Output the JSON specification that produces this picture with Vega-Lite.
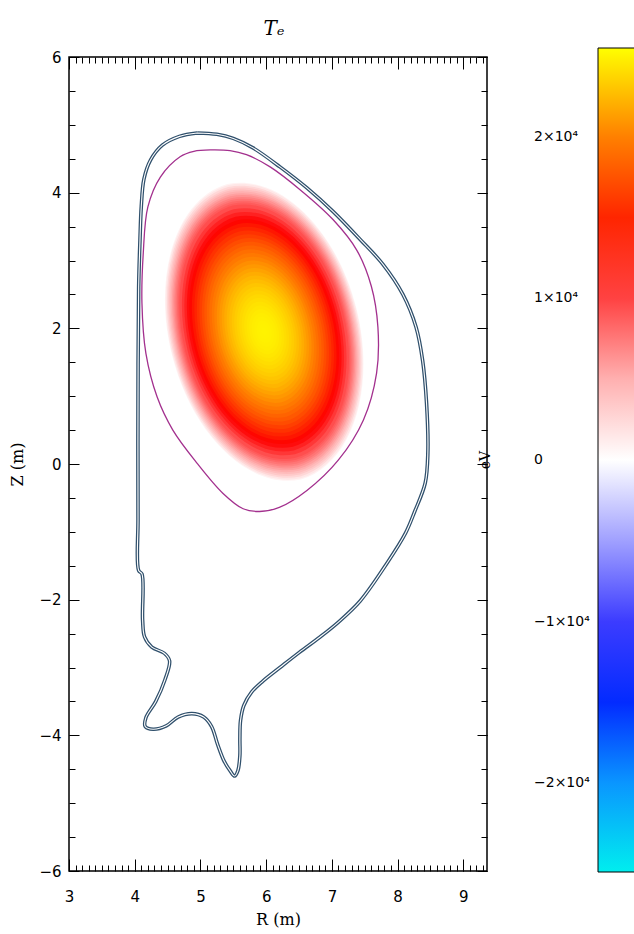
{
  "$schema": "https://vega.github.io/schema/vega-lite/v6.json",
  "width": 418,
  "height": 814,
  "autosize": {"type": "none"},
  "padding": {"left": 69, "top": 57, "right": 147, "bottom": 63},
  "background": "white",
  "title": {"text": "Tₑ", "font": "DejaVu Serif", "fontStyle": "italic", "fontSize": 20, "fontWeight": "normal", "offset": 9, "anchor": "middle", "dx": -4, "color": "black"},
  "config": {
    "view": {"stroke": "black", "strokeWidth": 1.5},
    "axis": {"grid": false, "domain": false, "tickColor": "black", "tickWidth": 1, "labelColor": "black", "titleColor": "black", "labelFlush": false, "labelOverlap": false, "labelBound": false}
  },
  "datasets": {
    "heat": [
      {"rho": 0.995, "T": 750, "R": 5.97, "Z": 1.95},
      {"rho": 0.9875, "T": 1510, "R": 5.97, "Z": 1.95},
      {"rho": 0.975, "T": 2540, "R": 5.97, "Z": 1.95},
      {"rho": 0.9625, "T": 3440, "R": 5.97, "Z": 1.95},
      {"rho": 0.95, "T": 4260, "R": 5.97, "Z": 1.95},
      {"rho": 0.9375, "T": 5025, "R": 5.97, "Z": 1.95},
      {"rho": 0.925, "T": 5740, "R": 5.97, "Z": 1.95},
      {"rho": 0.9125, "T": 6425, "R": 5.97, "Z": 1.95},
      {"rho": 0.9, "T": 7080, "R": 5.97, "Z": 1.95},
      {"rho": 0.8875, "T": 7700, "R": 5.97, "Z": 1.95},
      {"rho": 0.875, "T": 8300, "R": 5.97, "Z": 1.95},
      {"rho": 0.8625, "T": 8880, "R": 5.97, "Z": 1.95},
      {"rho": 0.85, "T": 9440, "R": 5.97, "Z": 1.95},
      {"rho": 0.825, "T": 10500, "R": 5.97, "Z": 1.95},
      {"rho": 0.8, "T": 11500, "R": 5.97, "Z": 1.95},
      {"rho": 0.775, "T": 12450, "R": 5.97, "Z": 1.95},
      {"rho": 0.75, "T": 13340, "R": 5.97, "Z": 1.95},
      {"rho": 0.725, "T": 14190, "R": 5.97, "Z": 1.95},
      {"rho": 0.7, "T": 14990, "R": 5.97, "Z": 1.95},
      {"rho": 0.675, "T": 15750, "R": 5.97, "Z": 1.95},
      {"rho": 0.65, "T": 16470, "R": 5.97, "Z": 1.95},
      {"rho": 0.625, "T": 17160, "R": 5.97, "Z": 1.95},
      {"rho": 0.6, "T": 17810, "R": 5.97, "Z": 1.95},
      {"rho": 0.575, "T": 18430, "R": 5.97, "Z": 1.95},
      {"rho": 0.55, "T": 19010, "R": 5.97, "Z": 1.95},
      {"rho": 0.525, "T": 19570, "R": 5.97, "Z": 1.95},
      {"rho": 0.5, "T": 20090, "R": 5.97, "Z": 1.95},
      {"rho": 0.475, "T": 20590, "R": 5.97, "Z": 1.95},
      {"rho": 0.45, "T": 21050, "R": 5.97, "Z": 1.95},
      {"rho": 0.425, "T": 21490, "R": 5.97, "Z": 1.95},
      {"rho": 0.4, "T": 21900, "R": 5.97, "Z": 1.95},
      {"rho": 0.375, "T": 22280, "R": 5.97, "Z": 1.95},
      {"rho": 0.35, "T": 22640, "R": 5.97, "Z": 1.95},
      {"rho": 0.325, "T": 22970, "R": 5.97, "Z": 1.95},
      {"rho": 0.3, "T": 23270, "R": 5.97, "Z": 1.95},
      {"rho": 0.275, "T": 23550, "R": 5.97, "Z": 1.95},
      {"rho": 0.25, "T": 23800, "R": 5.97, "Z": 1.95},
      {"rho": 0.225, "T": 24030, "R": 5.97, "Z": 1.95},
      {"rho": 0.2, "T": 24240, "R": 5.97, "Z": 1.95},
      {"rho": 0.175, "T": 24420, "R": 5.97, "Z": 1.95},
      {"rho": 0.15, "T": 24570, "R": 5.97, "Z": 1.95},
      {"rho": 0.125, "T": 24700, "R": 5.97, "Z": 1.95},
      {"rho": 0.1, "T": 24810, "R": 5.97, "Z": 1.95},
      {"rho": 0.075, "T": 24890, "R": 5.97, "Z": 1.95},
      {"rho": 0.05, "T": 24950, "R": 5.97, "Z": 1.95},
      {"rho": 0.025, "T": 24990, "R": 5.97, "Z": 1.95}
    ],
    "outer": [
      {"i": 0, "R": 4.95, "Z": 4.88}, {"i": 1, "R": 5.25, "Z": 4.86}, {"i": 2, "R": 5.5, "Z": 4.8},
      {"i": 3, "R": 5.8, "Z": 4.66}, {"i": 4, "R": 6.21, "Z": 4.38}, {"i": 5, "R": 6.62, "Z": 4.07},
      {"i": 6, "R": 7.02, "Z": 3.72}, {"i": 7, "R": 7.43, "Z": 3.31}, {"i": 8, "R": 7.78, "Z": 2.94},
      {"i": 9, "R": 8.08, "Z": 2.5}, {"i": 10, "R": 8.28, "Z": 2.02}, {"i": 11, "R": 8.38, "Z": 1.53},
      {"i": 12, "R": 8.44, "Z": 0.9}, {"i": 13, "R": 8.46, "Z": 0.16}, {"i": 14, "R": 8.42, "Z": -0.28},
      {"i": 15, "R": 8.26, "Z": -0.7}, {"i": 16, "R": 8.12, "Z": -1.02}, {"i": 17, "R": 7.84, "Z": -1.46},
      {"i": 18, "R": 7.43, "Z": -2.02}, {"i": 19, "R": 7.1, "Z": -2.33}, {"i": 20, "R": 6.82, "Z": -2.55},
      {"i": 21, "R": 6.5, "Z": -2.78}, {"i": 22, "R": 6.21, "Z": -3.0}, {"i": 23, "R": 5.95, "Z": -3.2},
      {"i": 24, "R": 5.78, "Z": -3.36}, {"i": 25, "R": 5.66, "Z": -3.56}, {"i": 26, "R": 5.61, "Z": -3.78},
      {"i": 27, "R": 5.6, "Z": -4.05}, {"i": 28, "R": 5.6, "Z": -4.3}, {"i": 29, "R": 5.57, "Z": -4.52},
      {"i": 30, "R": 5.52, "Z": -4.6}, {"i": 31, "R": 5.45, "Z": -4.52}, {"i": 32, "R": 5.36, "Z": -4.38},
      {"i": 33, "R": 5.26, "Z": -4.13}, {"i": 34, "R": 5.17, "Z": -3.87}, {"i": 35, "R": 5.05, "Z": -3.73},
      {"i": 36, "R": 4.87, "Z": -3.68}, {"i": 37, "R": 4.66, "Z": -3.73}, {"i": 38, "R": 4.48, "Z": -3.86},
      {"i": 39, "R": 4.28, "Z": -3.91}, {"i": 40, "R": 4.16, "Z": -3.87}, {"i": 41, "R": 4.17, "Z": -3.74},
      {"i": 42, "R": 4.32, "Z": -3.5}, {"i": 43, "R": 4.46, "Z": -3.18}, {"i": 44, "R": 4.53, "Z": -2.9},
      {"i": 45, "R": 4.45, "Z": -2.79}, {"i": 46, "R": 4.26, "Z": -2.7}, {"i": 47, "R": 4.15, "Z": -2.55},
      {"i": 48, "R": 4.12, "Z": -2.3}, {"i": 49, "R": 4.11, "Z": -1.62}, {"i": 50, "R": 4.06, "Z": -1.57},
      {"i": 51, "R": 4.05, "Z": -0.8}, {"i": 52, "R": 4.05, "Z": 1.0}, {"i": 53, "R": 4.06, "Z": 2.6},
      {"i": 54, "R": 4.08, "Z": 3.3}, {"i": 55, "R": 4.1, "Z": 3.8}, {"i": 56, "R": 4.14, "Z": 4.2},
      {"i": 57, "R": 4.24, "Z": 4.48}, {"i": 58, "R": 4.42, "Z": 4.7}, {"i": 59, "R": 4.68, "Z": 4.83},
      {"i": 60, "R": 4.95, "Z": 4.88}
    ],
    "lcfs": [
      {"i": 0, "R": 5.15, "Z": 4.63}, {"i": 1, "R": 5.45, "Z": 4.62}, {"i": 2, "R": 5.7, "Z": 4.56},
      {"i": 3, "R": 6.06, "Z": 4.38}, {"i": 4, "R": 6.52, "Z": 4.04}, {"i": 5, "R": 7.02, "Z": 3.6},
      {"i": 6, "R": 7.38, "Z": 3.15}, {"i": 7, "R": 7.6, "Z": 2.62}, {"i": 8, "R": 7.7, "Z": 2.02},
      {"i": 9, "R": 7.68, "Z": 1.34}, {"i": 10, "R": 7.48, "Z": 0.65}, {"i": 11, "R": 7.1, "Z": 0.06},
      {"i": 12, "R": 6.62, "Z": -0.39}, {"i": 13, "R": 6.2, "Z": -0.64}, {"i": 14, "R": 5.9, "Z": -0.7},
      {"i": 15, "R": 5.65, "Z": -0.66}, {"i": 16, "R": 5.34, "Z": -0.43}, {"i": 17, "R": 4.95, "Z": 0.01},
      {"i": 18, "R": 4.58, "Z": 0.5}, {"i": 19, "R": 4.34, "Z": 0.99}, {"i": 20, "R": 4.17, "Z": 1.63},
      {"i": 21, "R": 4.11, "Z": 2.37}, {"i": 22, "R": 4.13, "Z": 3.11}, {"i": 23, "R": 4.2, "Z": 3.79},
      {"i": 24, "R": 4.39, "Z": 4.23}, {"i": 25, "R": 4.69, "Z": 4.53}, {"i": 26, "R": 4.9, "Z": 4.61},
      {"i": 27, "R": 5.15, "Z": 4.63}
    ]
  },
  "layer": [
    {
      "data": {"name": "heat"},
      "mark": {"type": "point", "filled": true, "opacity": 1, "strokeWidth": 0, "shape": "M -0.242 -0.97 A 0.64 1 -14 0 0 0.242 0.97 A 0.64 1 -14 0 0 -0.242 -0.97 Z"},
      "encoding": {
        "x": {"field": "R", "type": "quantitative", "scale": {"domain": [3, 9.36], "nice": false, "zero": false},
          "axis": {"orient": "bottom", "values": [3, 4, 5, 6, 7, 8, 9], "tickSize": -12, "labelPadding": 30, "labelFont": "DejaVu Sans", "labelFontSize": 15, "labelAngle": 0, "format": "d",
            "title": "R (m)", "titleFont": "DejaVu Serif", "titleFontSize": 16, "titleFontWeight": "normal", "titlePadding": 7}},
        "y": {"field": "Z", "type": "quantitative", "scale": {"domain": [-6, 6], "nice": false, "zero": false},
          "axis": {"orient": "left", "values": [-6, -4, -2, 0, 2, 4, 6], "tickSize": -10, "labelPadding": 18, "labelFont": "DejaVu Sans", "labelFontSize": 15, "format": "d",
            "title": "Z (m)", "titleFont": "DejaVu Serif", "titleFontSize": 16, "titleFontWeight": "normal", "titlePadding": 13}},
        "size": {"field": "rho", "type": "quantitative", "scale": {"type": "pow", "exponent": 2, "domain": [0, 1], "range": [0, 93636]}, "legend": null},
        "color": {"field": "T", "type": "quantitative",
          "scale": {"domain": [-25500, -20000, -13000, -5000, 0, 5000, 13000, 20000, 25500],
                    "range": ["#00eeee", "#0a96ff", "#0000ff", "#a0a0ff", "#ffffff", "#ffb0b0", "#ff0000", "#ff8000", "#ffff00"],
                    "interpolate": "rgb"},
          "legend": {"orient": "none", "legendX": 410, "legendY": -9, "direction": "vertical", "padding": 0,
            "gradientLength": 824, "gradientThickness": 45, "gradientStrokeColor": "black", "gradientStrokeWidth": 1,
            "values": [-20000, -10000, 0, 10000, 20000],
            "labelExpr": "datum.value == 0 ? '0' : (datum.value < 0 ? '−' : '') + format(abs(datum.value) / 10000, 'd') + '×10⁴'",
            "labelFont": "DejaVu Sans", "labelFontSize": 14, "labelColor": "black", "labelOffset": -109,
            "title": "eV", "titleOrient": "left", "titleAngle": -90, "titleAnchor": "middle", "titlePadding": 105,
            "titleFont": "DejaVu Serif", "titleFontSize": 14, "titleFontWeight": "normal", "titleColor": "black"}},
        "order": {"field": "rho", "sort": "descending"}
      }
    },
    {
      "data": {"name": "outer"},
      "mark": {"type": "line", "color": "#30506c", "strokeWidth": 3.6, "strokeJoin": "round", "interpolate": "catmull-rom"},
      "encoding": {
        "x": {"field": "R", "type": "quantitative", "axis": {"orient": "bottom", "values": [3, 3.1, 3.2, 3.3, 3.4, 3.5, 3.6, 3.7, 3.8, 3.9, 4, 4.1, 4.2, 4.3, 4.4, 4.5, 4.6, 4.7, 4.8, 4.9, 5, 5.1, 5.2, 5.3, 5.4, 5.5, 5.6, 5.7, 5.8, 5.9, 6, 6.1, 6.2, 6.3, 6.4, 6.5, 6.6, 6.7, 6.8, 6.9, 7, 7.1, 7.2, 7.3, 7.4, 7.5, 7.6, 7.7, 7.8, 7.9, 8, 8.1, 8.2, 8.3, 8.4, 8.5, 8.6, 8.7, 8.8, 8.9, 9, 9.1, 9.2, 9.3], "tickSize": -6, "labels": false, "title": null}},
        "y": {"field": "Z", "type": "quantitative", "axis": {"orient": "left", "values": [-6, -5.5, -5, -4.5, -4, -3.5, -3, -2.5, -2, -1.5, -1, -0.5, 0, 0.5, 1, 1.5, 2, 2.5, 3, 3.5, 4, 4.5, 5, 5.5, 6], "tickSize": -6, "labels": false, "title": null}},
        "order": {"field": "i", "type": "quantitative"}
      }
    },
    {
      "data": {"name": "outer"},
      "mark": {"type": "line", "color": "white", "strokeWidth": 1.1, "strokeJoin": "round", "interpolate": "catmull-rom"},
      "encoding": {
        "x": {"field": "R", "type": "quantitative", "axis": {"orient": "top", "values": [3, 4, 5, 6, 7, 8, 9], "tickSize": -12, "labels": false, "title": null}},
        "y": {"field": "Z", "type": "quantitative", "axis": {"orient": "right", "values": [-6, -4, -2, 0, 2, 4, 6], "tickSize": -10, "labels": false, "title": null}},
        "order": {"field": "i", "type": "quantitative"}
      }
    },
    {
      "data": {"name": "lcfs"},
      "mark": {"type": "line", "color": "#a3308e", "strokeWidth": 1.3, "strokeJoin": "round", "interpolate": "catmull-rom"},
      "encoding": {
        "x": {"field": "R", "type": "quantitative", "axis": {"orient": "top", "values": [3, 3.1, 3.2, 3.3, 3.4, 3.5, 3.6, 3.7, 3.8, 3.9, 4, 4.1, 4.2, 4.3, 4.4, 4.5, 4.6, 4.7, 4.8, 4.9, 5, 5.1, 5.2, 5.3, 5.4, 5.5, 5.6, 5.7, 5.8, 5.9, 6, 6.1, 6.2, 6.3, 6.4, 6.5, 6.6, 6.7, 6.8, 6.9, 7, 7.1, 7.2, 7.3, 7.4, 7.5, 7.6, 7.7, 7.8, 7.9, 8, 8.1, 8.2, 8.3, 8.4, 8.5, 8.6, 8.7, 8.8, 8.9, 9, 9.1, 9.2, 9.3], "tickSize": -6, "labels": false, "title": null}},
        "y": {"field": "Z", "type": "quantitative", "axis": {"orient": "right", "values": [-6, -5.5, -5, -4.5, -4, -3.5, -3, -2.5, -2, -1.5, -1, -0.5, 0, 0.5, 1, 1.5, 2, 2.5, 3, 3.5, 4, 4.5, 5, 5.5, 6], "tickSize": -6, "labels": false, "title": null}},
        "order": {"field": "i", "type": "quantitative"}
      }
    }
  ],
  "resolve": {"axis": {"x": "independent", "y": "independent"}}
}
